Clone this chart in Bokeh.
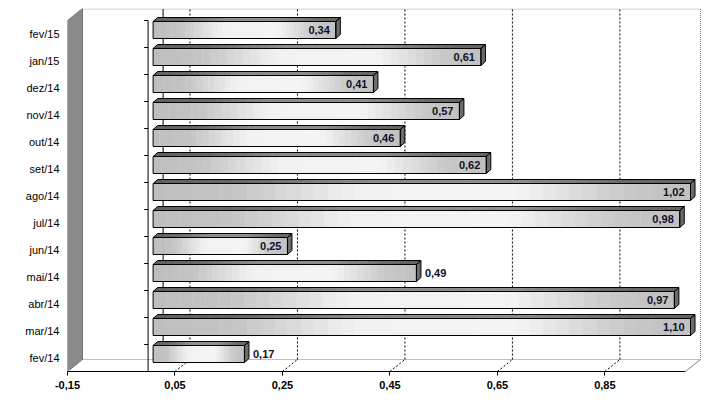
from bokeh.plotting import figure
from bokeh.models import FixedTicker, CustomJSTickFormatter, Range1d
from bokeh.embed import file_html
from bokeh.resources import INLINE
from bokeh.core.properties import value

# ---------------- data ----------------
categories = ["fev/14", "mar/14", "abr/14", "mai/14", "jun/14", "jul/14", "ago/14",
              "set/14", "out/14", "nov/14", "dez/14", "jan/15", "fev/15"]
values = [0.17, 1.10, 0.97, 0.49, 0.25, 0.98, 1.02, 0.62, 0.46, 0.57, 0.41, 0.61, 0.34]
x_ticks = [-0.15, 0.05, 0.25, 0.45, 0.65, 0.85]
x_min = -0.15
x_max = 1.0

# ---------------- style ----------------
label_outside = [True, False, False, True, False, False, False,
                 False, False, False, False, False, False]
FONT = value("Liberation Sans")

W, H = 715, 394
FL, FR, FT, FB = 67, 703, 8, 371          # frame edges on the canvas
SX = (685 - 67) / (x_max - x_min)         # px per value unit
SY = 27.0                                 # px per category


def px(d):
    return d / SX


def py(d):
    return d / SY


x_end = x_min + (FR - FL) / SX
y_start = -0.5
y_end = y_start + (FB - FT) / SY
n = len(categories)

DX, DY = px(15), py(12)                   # depth of the 3-D box
y_floor_f = -0.5
y_floor_b = -0.5 + DY
y_top = y_end - py(0.5)

p = figure(width=W, height=H, x_range=Range1d(x_min, x_end), y_range=Range1d(y_start, y_end),
           output_backend="svg", toolbar_location=None,
           min_border_left=FL, min_border_right=W - FR, min_border_top=FT, min_border_bottom=H - FB)
p.outline_line_color = None
p.xgrid.visible = False
p.ygrid.visible = False
p.background_fill_color = "white"
p.border_fill_color = "white"

# back wall border (dotted gray)
p.line([x_min + DX, x_max + DX, x_max + DX], [y_top, y_top, y_floor_b],
       line_color="#808080", line_dash="1 1", line_width=1)
p.line([x_min + DX, x_max + DX], [y_floor_b, y_floor_b],
       line_color="#808080", line_dash="1 1", line_width=1)
# floor right diagonal
p.line([x_max, x_max + DX], [y_floor_f, y_floor_b], line_color="#808080", line_width=1)

# gridlines: floor diagonal + back wall vertical
gx = x_ticks[1:]
p.segment(x0=gx, y0=[y_floor_f] * len(gx), x1=[g + DX for g in gx], y1=[y_floor_b] * len(gx),
          line_color="black", line_dash="2 2", line_width=1)
p.segment(x0=[g + DX for g in gx], y0=[y_floor_b] * len(gx), x1=[g + DX for g in gx], y1=[y_top] * len(gx),
          line_color="black", line_dash="2 2", line_width=1)
# back projection of the zero line
p.segment(x0=[DX], y0=[y_floor_b], x1=[DX], y1=[y_top], line_color="black", line_width=1)

# left wall
p.patch([x_min, x_min, x_min + DX, x_min + DX], [y_floor_f, n - 0.5, n - 0.5 + DY, y_floor_b],
        fill_color="#8a8a8a", line_color="#777777", line_width=1)

# front zero axis with category ticks
p.segment(x0=[0], y0=[-0.5], x1=[0], y1=[n - 0.5], line_color="black", line_width=1)
p.segment(x0=[0] * (n + 1), y0=[k - 0.5 for k in range(n + 1)],
          x1=[-px(4)] * (n + 1), y1=[k - 0.5 for k in range(n + 1)], line_color="black", line_width=1)

# ---------------- bars ----------------
OX, OY = px(5), py(4)
HH = py(17) / 2
BDX, BDY = px(4.5), py(4)
stops = [(0.0, 190), (0.15, 196), (0.38, 242), (0.68, 244), (0.88, 200), (1.0, 192)]


def grad(t):
    for (t0, g0), (t1, g1) in zip(stops[:-1], stops[1:]):
        if t <= t1:
            return g0 + (g1 - g0) * (t - t0) / (t1 - t0)
    return stops[-1][1]


def hexg(g):
    g = int(max(0, min(255, round(g))))
    return "#%02x%02x%02x" % (g, g, g)


N = 40
fl, fr, fb, ft, fc = [], [], [], [], []
txs, tys, tcs = [], [], []
ol_l, ol_r, ol_b, ol_t = [], [], [], []
top_xs, top_ys, side_xs, side_ys = [], [], [], []
lab_x, lab_y, lab_t, lab_align = [], [], [], []
for i, (cat, v) in enumerate(zip(categories, values)):
    vc = min(v, x_max)
    xs, xe = OX, vc + OX
    yb, yt = i + OY - HH, i + OY + HH
    for k in range(N):
        a = xs + (xe - xs) * k / N
        b = xs + (xe - xs) * (k + 1) / N
        t = (k + 0.5) / N
        g = grad(t)
        fl.append(a); fr.append(b + px(0.4)); fb.append(yb); ft.append(yt); fc.append(hexg(g))
        txs.append([a, b + px(0.4), b + px(0.4) + BDX, a + BDX])
        tys.append([yt, yt, yt + BDY, yt + BDY])
        tcs.append(hexg(96 + (g - 190) / (244 - 190) * 44))
    ol_l.append(xs); ol_r.append(xe); ol_b.append(yb); ol_t.append(yt)
    top_xs.append([xs, xe, xe + BDX, xs + BDX]); top_ys.append([yt, yt, yt + BDY, yt + BDY])
    side_xs.append([xe, xe, xe + BDX, xe + BDX]); side_ys.append([yb, yt, yt + BDY, yb + BDY])
    lab_t.append(("%.2f" % v).replace(".", ","))
    lab_y.append(i + OY)
    if label_outside[i]:
        lab_x.append(xe + BDX + px(4)); lab_align.append("left")
    else:
        lab_x.append(xe - px(6)); lab_align.append("right")

p.quad(left=fl, right=fr, bottom=fb, top=ft, fill_color=fc, line_color=None)
p.patches(txs, tys, fill_color=tcs, line_color=None)
p.patches(side_xs, side_ys, fill_color="#6c6c6c", line_color="black", line_width=1)
p.patches(top_xs, top_ys, fill_color=None, line_color="black", line_width=1)
p.quad(left=ol_l, right=ol_r, bottom=ol_b, top=ol_t, fill_color=None, line_color="black", line_width=1)

p.text(x=lab_x, y=lab_y, text=lab_t, text_align=lab_align, text_baseline="middle",
       text_font=FONT, text_font_size="11px", text_font_style="bold", text_color="#101028")

# ---------------- axes ----------------
xa = p.xaxis[0]
xa.ticker = FixedTicker(ticks=x_ticks)
xa.bounds = (x_min, x_max)
xa.formatter = CustomJSTickFormatter(code="return tick.toFixed(2).replace('.', ',');")
xa.axis_line_color = "black"
xa.major_tick_line_color = "black"
xa.major_tick_out = 4
xa.major_tick_in = 0
xa.minor_tick_line_color = None
xa.major_label_standoff = 5
xa.major_label_text_font = "Liberation Sans"
xa.major_label_text_font_size = "11px"
xa.major_label_text_font_style = "bold"
xa.major_label_text_color = "black"

ya = p.yaxis[0]
ya.ticker = FixedTicker(ticks=list(range(n)))
ya.major_label_overrides = {i: c for i, c in enumerate(categories)}
ya.axis_line_color = None
ya.major_tick_line_color = None
ya.minor_tick_line_color = None
ya.major_tick_out = 0
ya.major_tick_in = 0
ya.major_label_standoff = 8
ya.major_label_text_font = "Liberation Sans"
ya.major_label_text_font_size = "11px"
ya.major_label_text_color = "black"

open("out.html", "w").write(file_html(p, INLINE))
